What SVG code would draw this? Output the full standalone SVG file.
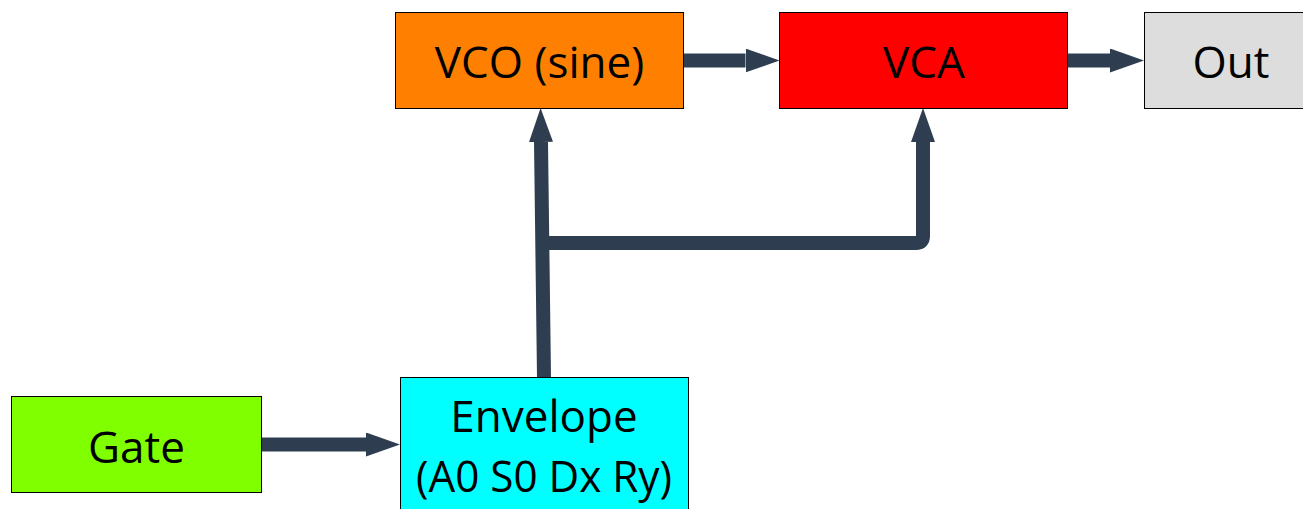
<svg xmlns="http://www.w3.org/2000/svg" width="1303" height="509" viewBox="0 0 1303 509">
<style>
.box{stroke:#000;stroke-width:1}
.lbl{font-family:"Open Sans","Noto Sans",sans-serif;font-size:44px;fill:#000;text-anchor:middle}
.conn{fill:none;stroke:#2e3e50;stroke-width:14;stroke-linejoin:round}
</style>
<defs>
<marker id="ah" markerUnits="userSpaceOnUse" markerWidth="34" markerHeight="24" refX="0" refY="12" orient="auto" viewBox="0 0 34 24">
<path d="M0,0 L34,12 L0,24 z" fill="#2e3e50"/>
</marker>
</defs>
<rect width="1303" height="509" fill="#fff"/>
<g id="connectors">
<path class="conn" d="M261,444.5 H366" marker-end="url(#ah)"/>
<path class="conn" d="M684,60.5 H745.5" marker-end="url(#ah)"/>
<path class="conn" d="M1068,60.5 H1110" marker-end="url(#ah)"/>
<path class="conn" d="M544,377 L541,142" marker-end="url(#ah)"/>
<path class="conn" d="M543,243 H916 Q923,243 923,236 V142" marker-end="url(#ah)"/>
</g>
<g id="vco">
<rect class="box" x="395.5" y="12.5" width="288" height="96" fill="#ff8000"/>
<text class="lbl" x="539.5" y="78">VCO (sine)</text>
</g>
<g id="vca">
<rect class="box" x="779.5" y="12.5" width="288" height="96" fill="#ff0000"/>
<text class="lbl" x="924" y="78">VCA</text>
</g>
<g id="out">
<rect class="box" x="1144.5" y="12.5" width="288" height="96" fill="#dddddd"/>
<text class="lbl" x="1231" y="78">Out</text>
</g>
<g id="gate">
<rect class="box" x="11.5" y="396.5" width="250" height="96" fill="#80ff00"/>
<text class="lbl" x="136.5" y="462.5">Gate</text>
</g>
<g id="envelope">
<rect class="box" x="400.5" y="377.5" width="288" height="140" fill="#00ffff"/>
<text class="lbl" x="544" y="431.5">Envelope</text>
<text class="lbl" x="544" y="491.5" textLength="256" lengthAdjust="spacingAndGlyphs">(A0 S0 Dx Ry)</text>
</g>
</svg>
